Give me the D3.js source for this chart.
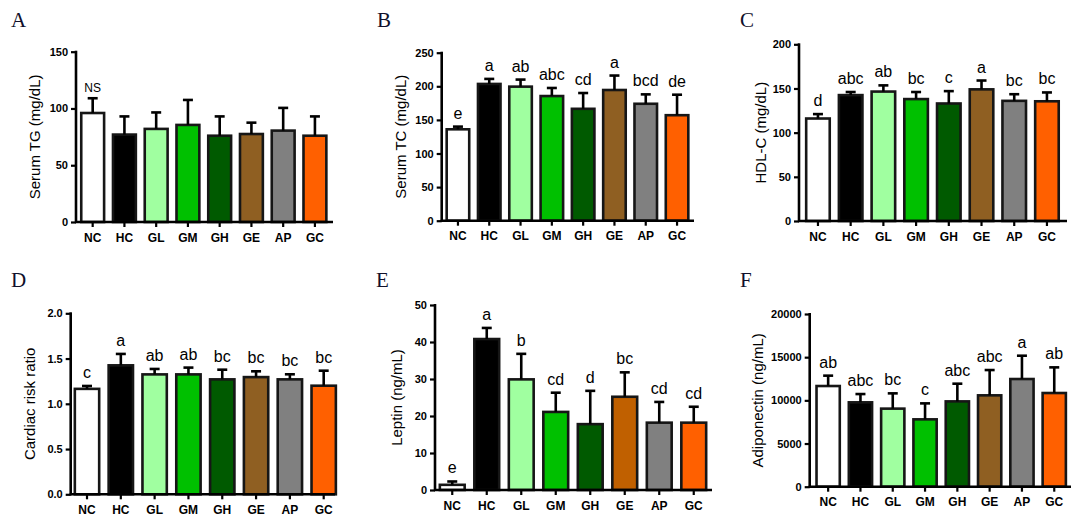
<!DOCTYPE html>
<html><head><meta charset="utf-8">
<script src="https://cdn.jsdelivr.net/npm/d3@7"></script>
<style>body{margin:0;background:#fff}svg{display:block}</style>
</head><body>
<svg id="c" width="1092" height="527"></svg>
<script>
const groups = ["NC","HC","GL","GM","GH","GE","AP","GC"];
const colors = ["#ffffff","#000000","#a0ffa0","#00c000","#005a00","#8f5f22","#808080","#ff6000"];
const colorsE = ["#ffffff","#000000","#a0ffa0","#00c000","#005a00","#c06000","#808080","#ff6000"];

const tgMean = [96, 77, 82, 85.5, 76, 77.5, 80.5, 76];
const tgErr  = [13, 16, 14.5, 22, 17, 10, 20, 17];
const tgLetters = ["NS","","","","","","",""];

const tcMean = [136, 203.5, 199.5, 185.5, 166.5, 194.5, 174, 157];
const tcErr  = [4, 7.5, 10.5, 12, 23.5, 21.5, 14, 30.5];
const tcLetters = ["e","a","ab","abc","cd","a","bcd","de"];

const hdlMean = [116, 142.5, 146.5, 138, 133, 149, 136, 135.5];
const hdlErr  = [5, 3.5, 7, 8, 14, 10, 7.5, 10];
const hdlLetters = ["d","abc","ab","bc","c","a","bc","bc"];

const crrMean = [1.165, 1.425, 1.325, 1.325, 1.27, 1.295, 1.27, 1.20];
const crrErr  = [0.032, 0.126, 0.06, 0.075, 0.107, 0.064, 0.056, 0.166];
const crrLetters = ["c","a","ab","ab","bc","bc","bc","bc"];

const leptinMean = [1.4, 40.8, 29.9, 21.1, 17.8, 25.2, 18.2, 18.2];
const leptinErr  = [0.9, 3, 6.9, 5.2, 9, 6.6, 5.6, 4.3];
const leptinLetters = ["e","a","b","cd","d","bc","cd","cd"];

const adipoMean = [11660, 9770, 9040, 7800, 9880, 10580, 12470, 10850];
const adipoErr  = [1200, 960, 1770, 1850, 2050, 2930, 2700, 2970];
const adipoLetters = ["ab","abc","bc","c","abc","abc","a","ab"];

const tgTicks = [0, 50, 100, 150];
const tcTicks = [0, 50, 100, 150, 200, 250];
const hdlTicks = [0, 50, 100, 150, 200];
const crrTicks = [0, 0.5, 1.0, 1.5, 2.0];
const leptinTicks = [0, 10, 20, 30, 40, 50];
const adipoTicks = [0, 5000, 10000, 15000, 20000];

const panels = [
  {lab:"A", lx:11, ly:27, title:"Serum TG (mg/dL)", tx:35, mean:tgMean, err:tgErr, letters:tgLetters, ticks:tgTicks, fmt:d3.format("d"), cols:colors,
   ax:76, yTop:51.7, y0:222, r0:76.8, r1:330.8, axEnd:333, letterSize:12},
  {lab:"B", lx:377, ly:27, title:"Serum TC (mg/dL)", tx:401, mean:tcMean, err:tcErr, letters:tcLetters, ticks:tcTicks, fmt:d3.format("d"), cols:colors,
   ax:441.7, yTop:52.7, y0:220.7, r0:442.3, r1:692.7, axEnd:694, letterSize:16},
  {lab:"C", lx:740, ly:27, title:"HDL-C (mg/dL)", tx:761, mean:hdlMean, err:hdlErr, letters:hdlLetters, ticks:hdlTicks, fmt:d3.format("d"), cols:colors,
   ax:799, yTop:44.3, y0:221, r0:801.6, r1:1063.3, axEnd:1067, letterSize:16},
  {lab:"D", lx:11, ly:287, title:"Cardiac risk ratio", tx:30, mean:crrMean, err:crrErr, letters:crrLetters, ticks:crrTicks, fmt:d3.format(".1f"), cols:colors,
   ax:70.7, yTop:313.3, y0:494.3, r0:70.1, r1:340.6, axEnd:335, letterSize:16},
  {lab:"E", lx:376, ly:287, title:"Leptin (ng/mL)", tx:397, mean:leptinMean, err:leptinErr, letters:leptinLetters, ticks:leptinTicks, fmt:d3.format("d"), cols:colorsE,
   ax:435, yTop:305, y0:490, r0:435, r1:711, axEnd:712, letterSize:16},
  {lab:"F", lx:740, ly:287, title:"Adiponectin (ng/mL)", tx:758, mean:adipoMean, err:adipoErr, letters:adipoLetters, ticks:adipoTicks, fmt:d3.format("d"), cols:colors,
   ax:809.7, yTop:314, y0:486.7, r0:812, r1:1070.4, axEnd:1071, letterSize:16}
];

const svg = d3.select("#c");

panels.forEach(p => {
  const g = svg.append("g");
  const maxV = p.ticks[p.ticks.length-1];
  const y = d3.scaleLinear().domain([0, maxV]).range([p.y0, p.yTop]);
  const x = d3.scaleBand().domain(groups).range([p.r0, p.r1]).paddingInner(0.28).paddingOuter(0.14);

  g.append("text").attr("x", p.lx).attr("y", p.ly)
    .attr("font-family", "'Liberation Serif','Times New Roman',serif")
    .attr("font-size", 21).attr("fill", "#10102a").text(p.lab);

  g.selectAll("rect.bar").data(groups).enter().append("rect")
    .attr("x", d => x(d)).attr("width", x.bandwidth())
    .attr("y", (d,i) => y(p.mean[i]))
    .attr("height", (d,i) => p.y0 - y(p.mean[i]))
    .attr("fill", (d,i) => p.cols[i])
    .attr("stroke", "#161616").attr("stroke-width", 2.6);

  groups.forEach((d,i) => {
    const cx = x(d) + x.bandwidth()/2;
    const yt = y(p.mean[i] + p.err[i]);
    g.append("line").attr("x1", cx).attr("x2", cx).attr("y1", y(p.mean[i])).attr("y2", yt)
      .attr("stroke", "#000").attr("stroke-width", 2.6);
    g.append("line").attr("x1", cx-5).attr("x2", cx+5).attr("y1", yt).attr("y2", yt)
      .attr("stroke", "#000").attr("stroke-width", 2.6);
    if (p.letters[i]) {
      g.append("text").attr("x", cx).attr("y", yt - (p.letterSize === 12 ? 6 : 8))
        .attr("text-anchor", "middle")
        .attr("font-family", "'Liberation Sans',Arial,sans-serif")
        .attr("font-size", p.letterSize).attr("fill", "#000").text(p.letters[i]);
    }
  });

  const yAxis = d3.axisLeft(y).tickValues(p.ticks).tickFormat(p.fmt).tickSize(5).tickPadding(3);
  const ya = g.append("g").attr("transform", `translate(${p.ax},0)`).call(yAxis);
  ya.select(".domain").remove();
  ya.selectAll(".tick line").attr("stroke", "#000").attr("stroke-width", 2.2);
  ya.selectAll(".tick text").attr("font-family", "'Liberation Sans',Arial,sans-serif")
    .attr("font-weight", "bold").attr("font-size", 11).attr("fill", "#000");
  g.append("line").attr("x1", p.ax).attr("x2", p.ax).attr("y1", p.yTop - 1).attr("y2", p.y0 + 1)
    .attr("stroke", "#000").attr("stroke-width", 2.6);

  const xAxis = d3.axisBottom(x).tickSize(5).tickPadding(6);
  const xa = g.append("g").attr("transform", `translate(0,${p.y0})`).call(xAxis);
  xa.select(".domain").remove();
  xa.selectAll(".tick line").attr("stroke", "#000").attr("stroke-width", 2.2);
  xa.selectAll(".tick text").attr("font-family", "'Liberation Sans',Arial,sans-serif")
    .attr("font-weight", "bold").attr("font-size", 12).attr("fill", "#000");
  g.append("line").attr("x1", p.ax - 1).attr("x2", p.axEnd).attr("y1", p.y0).attr("y2", p.y0)
    .attr("stroke", "#000").attr("stroke-width", 2.6);

  const ty = (p.yTop + p.y0) / 2;
  g.append("text").attr("transform", `translate(${p.tx},${ty}) rotate(-90)`)
    .attr("text-anchor", "middle").attr("dy", "0.35em")
    .attr("font-family", "'Liberation Sans',Arial,sans-serif")
    .attr("font-size", 15).attr("fill", "#000").text(p.title);
});
</script>
</body></html>
